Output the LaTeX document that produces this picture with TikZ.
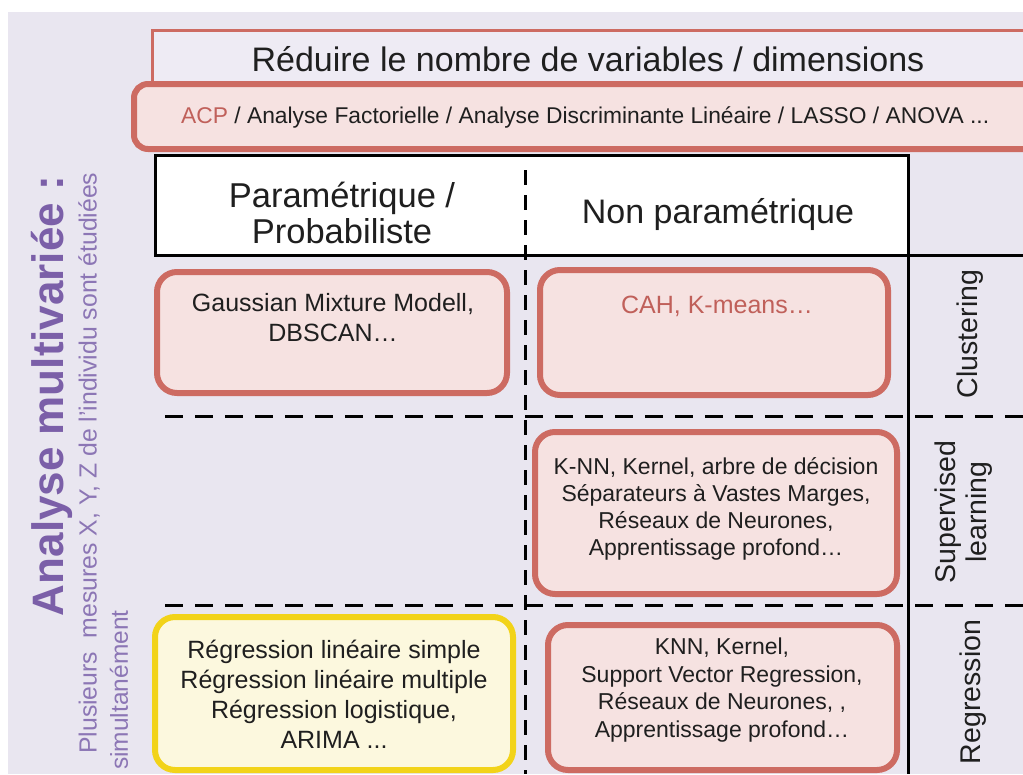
\documentclass[tikz,border=0pt]{standalone}
\usepackage{fontspec}
\setmainfont{Liberation Sans}
\newcommand{\fsz}[2]{\fontsize{#1}{#2}\selectfont}
\definecolor{lav}{HTML}{E9E6F0}
\definecolor{titlefill}{HTML}{EEEBF4}
\definecolor{redline}{HTML}{CD6B62}
\definecolor{pinkfill}{HTML}{F6E2E1}
\definecolor{redtext}{HTML}{C0605A}
\definecolor{yelline}{HTML}{F2D319}
\definecolor{yelfill}{HTML}{FCF8DE}
\definecolor{purpdark}{HTML}{7B5FA8}
\definecolor{purplight}{HTML}{8C76B5}
\tikzset{
  redbox/.style={draw=redline, line width=6pt, fill=pinkfill, rounded corners=20pt},
  yelbox/.style={draw=yelline, line width=6pt, fill=yelfill, rounded corners=20pt},
  dashh/.style={line width=3pt, dash pattern=on 18pt off 12pt},
  dashv/.style={line width=3pt, dash pattern=on 15pt off 10pt},
  solidl/.style={line width=3pt},
  txt/.style={align=center, inner sep=0pt, text=black!88},
  sidelab/.style={rotate=90, align=center, inner sep=0pt, text=black!88, font=\fsz{28.5}{31}}
}
\begin{document}
\begin{tikzpicture}[x=1pt,y=-1pt]
\useasboundingbox (0,0) rectangle (1023,774);
\clip (0,0) rectangle (1023,774);
\fill[white] (0,0) rectangle (1023,774);
\fill[lav] (8,12) rectangle (1023,774);
% title and ACP band
\draw[draw=redline, line width=3pt, fill=titlefill] (152,30) rectangle (1060,100);
\node[txt, font=\fsz{34}{40}] (title) at (588,59) {Réduire le nombre de variables / dimensions};
\draw[redbox, rounded corners=14pt] (134,84) rectangle (1080,149);
\node[txt, anchor=west, font=\fsz{22.8}{27}] (acp) at (181,117) {\textcolor{redtext}{ACP} / Analyse Factorielle / Analyse Discriminante Linéaire / LASSO / ANOVA ...};
% header
\draw[solidl, fill=white] (155,155) rectangle (908,255);
\node[txt, font=\fsz{34.5}{36}] (param) at (342,213) {Paramétrique /\\Probabiliste};
\node[txt, font=\fsz{34}{36}] (nonparam) at (718,215) {Non paramétrique};
% grid lines
\coordinate (vtop) at (908,155);
\coordinate (vbot) at (908,774);
\draw[solidl] (vtop) -- (vbot);
\draw[solidl] (908,255) -- (1023,255);
\draw[dashv] (525,170) -- (525,774);
\draw[dashh] (165,416) -- (1023,416);
\draw[dashh] (165,605) -- (1023,605);
% boxes
\draw[redbox] (157,272) rectangle (507,393);
\node[txt, font=\fsz{25}{30}] (gmm) at (333,318) {Gaussian Mixture Modell,\\DBSCAN…};
\draw[redbox] (540,270) rectangle (888,395);
\node[txt, font=\fsz{25}{30}, text=redtext] (cah) at (717,306) {CAH, K-means…};
\draw[redbox] (535,432) rectangle (897,594);
\node[txt, font=\fsz{23}{27}] (knn) at (716,509) {K-NN, Kernel, arbre de décision\\Séparateurs à Vastes Marges,\\Réseaux de Neurones,\\Apprentissage profond…};
\draw[yelbox] (155,617) rectangle (513,770);
\node[txt, font=\fsz{25}{30}] (reglin) at (334,694) {Régression linéaire simple\\Régression linéaire multiple\\Régression logistique,\\ARIMA ...};
\draw[redbox] (548,625) rectangle (897,770);
\node[txt, font=\fsz{23}{27.5}] (knnreg) at (722,690) {KNN, Kernel,\\Support Vector Regression,\\Réseaux de Neurones, ,\\Apprentissage profond…};
% side labels
\node[sidelab] (clus) at (970,334) {Clustering};
\node[sidelab] (sup) at (964,512) {Supervised\\learning};
\node[sidelab] (regr) at (973,692) {Regression};
% left labels
\node[rotate=90, inner sep=0pt, text=purpdark, font=\bfseries\fsz{44}{48}] (analyse) at (52,396) {Analyse multivariée :};
\node[rotate=90, anchor=west, inner sep=0pt, text=purplight, font=\fsz{24.8}{28}] (plus) at (89,754) {Plusieurs~~mesures X, Y, Z de l'individu sont étudiées};
\node[rotate=90, anchor=west, inner sep=0pt, text=purplight, font=\fsz{24.5}{28}] (simul) at (119,770) {simultanément};
\end{tikzpicture}
\end{document}
